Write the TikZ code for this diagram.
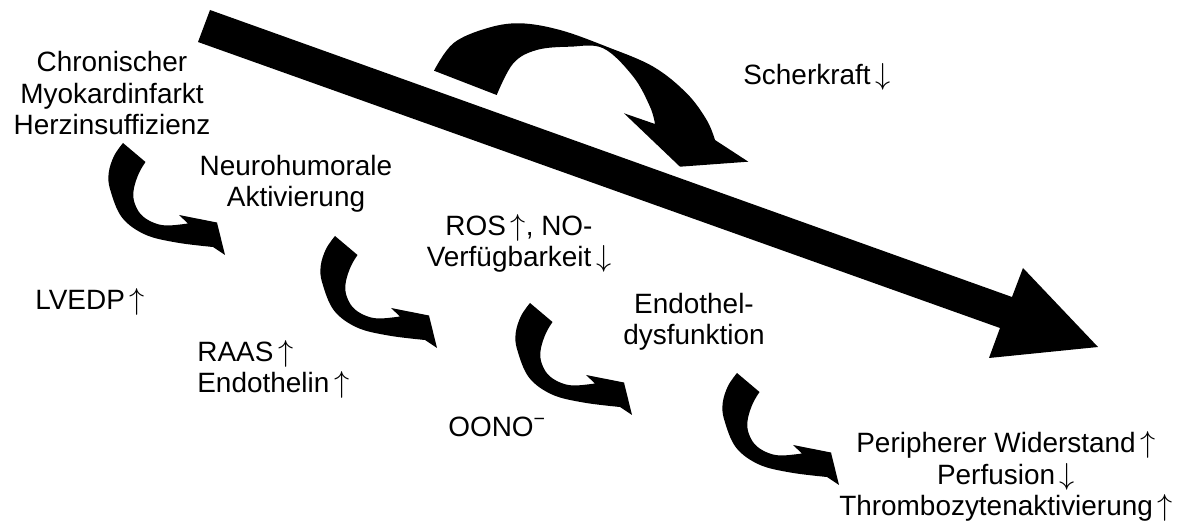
\documentclass[tikz,border=0pt]{standalone}
\usepackage{fontspec}
\setmainfont{Liberation Sans}
\newcommand{\up}{\,\smash{$\uparrow$}}
\newcommand{\dn}{\,\smash{$\downarrow$}}
\begin{document}
\begin{tikzpicture}[x=0.02cm,y=-0.02cm,
  txt/.style={font=\fontsize{15.9}{18.1}\selectfont, inner sep=0, align=center, anchor=base},
  txtl/.style={font=\fontsize{15.9}{18.1}\selectfont, inner sep=0, align=left, anchor=base west},
  curlyarrow/.pic={
    \fill (0,0) -- (22.5,19)
      -- plot[smooth,tension=0.6] coordinates {(22.5,19) (16,30) (11,45) (11,58) (17.5,71) (29,79) (43.3,82.5) (65,80.5)}
      -- (56,72) -- (94,79.5) -- (102,112)
      -- plot[smooth,tension=0.6] coordinates {(90,104) (53.3,99.5) (22,91.5) (-1,74.5) (-12.7,47) (-14.3,30) (-9,13) (0,0)}
      -- cycle;
  }]
\useasboundingbox (0,0) rectangle (1181,530);
% big straight arrow
\fill (210,10) -- (1012,297) -- (1023,268) -- (1098,347) -- (989,358) -- (1000,328) -- (198,42) -- cycle;
% big curved arrow (Scherkraft)
\fill plot[smooth,tension=0.6] coordinates {(434,70.7) (453.3,43.3) (486.7,28.3) (520,23.3) (560,30) (606.7,46.7) (653.3,66.7) (686.7,93.3) (706.7,120) (715,140)}
  -- (748.3,161.7) -- (680,166.7) -- (624,113.3) -- (655,124)
  -- plot[smooth,tension=0.6] coordinates {(655,124) (650,106.7) (633.3,76.7) (603.3,48.3) (570,46.7) (536.7,50) (513.3,63.3) (496.7,95)}
  -- cycle;
% small curved arrows
\pic at (123,143) {curlyarrow};
\pic at (335,236) {curlyarrow};
\pic at (530,303) {curlyarrow};
\pic at (737,373) {curlyarrow};
% texts
\node[txt] (chron) at (112,135) {Chronischer\\Myokardinfarkt\\Herzinsuffizienz};
\node[txt] (neuro) at (296,207) {Neurohumorale\\Aktivierung};
\node[txtl] (scher) at (743,85) {Scherkraft\dn};
\node[txtl] (lvedp) at (35,310) {LVEDP\up};
\node[txt] (ros) at (519,267) {ROS\up, NO-\\Verfügbarkeit\dn};
\node[txtl] (raas) at (197,393) {RAAS\up\\Endothelin\up};
\node[txtl] (oono) at (448,437) {OONO\textsuperscript{−}};
\node[txt] (endo) at (694,345) {Endothel-\\dysfunktion};
\node[txt] (peri) at (1006,516) {Peripherer Widerstand\up\\Perfusion\dn\\Thrombozytenaktivierung\up};
\end{tikzpicture}
\end{document}
